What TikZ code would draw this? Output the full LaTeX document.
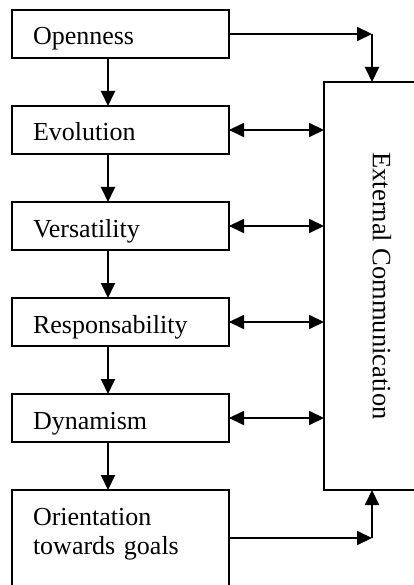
\documentclass[tikz,border=0pt]{standalone}
\usepackage{fontspec}
\setmainfont{Liberation Serif}
\usetikzlibrary{arrows.meta, positioning}

\begin{document}
\begin{tikzpicture}[
    x=1pt, y=-1pt,
    factor/.style={
        draw,
        line width=1.5pt,
        inner xsep=21pt,
        inner ysep=0pt,
        outer sep=0pt,
        text width=175pt,
        align=left,
        minimum height=48pt,
        text height=28pt,
        text depth=6pt,
        font=\fontsize{26pt}{29pt}\selectfont,
    },
    extbox/.style={
        draw,
        line width=1.5pt,
        inner sep=0pt,
        outer sep=0pt,
        minimum width=116pt,
        minimum height=408pt,
        font=\fontsize{26.5pt}{29pt}\selectfont,
    },
    flow/.style={
        line width=2pt,
        -{Triangle[length=15pt, width=14pt]},
    },
    link/.style={
        line width=2pt,
        {Triangle[length=15pt, width=14pt]}-{Triangle[length=15pt, width=14pt]},
    }
]
    \path[use as bounding box, clip] (0,0) rectangle (414,585);

    % Factors
    \node[factor] (open) at (120.5,34) {Openness};
    \node[factor, below=48pt of open] (evo) {Evolution};
    \node[factor, below=48pt of evo] (vers) {Versatility};
    \node[factor, below=48pt of vers] (resp) {Responsability};
    \node[factor, below=48pt of resp] (dyn) {Dynamism};
    \node[factor, below=48pt of dyn, minimum height=96pt,
          text height=10pt, text depth=36pt] (goals) {Orientation\\towards goals};

    % External communication
    \node[extbox] (ext) at (382,286) {\rotatebox{-90}{External Communication}};

    % Chain
    \draw[flow] ([xshift=96pt]open.south west) -- ([xshift=96pt]evo.north west);
    \draw[flow] ([xshift=96pt]evo.south west) -- ([xshift=96pt]vers.north west);
    \draw[flow] ([xshift=96pt]vers.south west) -- ([xshift=96pt]resp.north west);
    \draw[flow] ([xshift=96pt]resp.south west) -- ([xshift=96pt]dyn.north west);
    \draw[flow] ([xshift=96pt]dyn.south west) -- ([xshift=96pt]goals.north west);

    % Links to external communication
    \coordinate (topbend) at ([xshift=48pt]ext.north west |- open.east);
    \coordinate (botbend) at ([xshift=48pt]ext.south west |- goals.east);
    \draw[flow] (open.east) -- (topbend);
    \draw[flow] (topbend) -- (topbend |- ext.north);
    \draw[link] (evo.east) -- (evo.east -| ext.west);
    \draw[link] (vers.east) -- (vers.east -| ext.west);
    \draw[link] (resp.east) -- (resp.east -| ext.west);
    \draw[link] (dyn.east) -- (dyn.east -| ext.west);
    \draw[flow] (goals.east) -- (botbend);
    \draw[flow] (botbend) -- (botbend |- ext.south);
\end{tikzpicture}
\end{document}
